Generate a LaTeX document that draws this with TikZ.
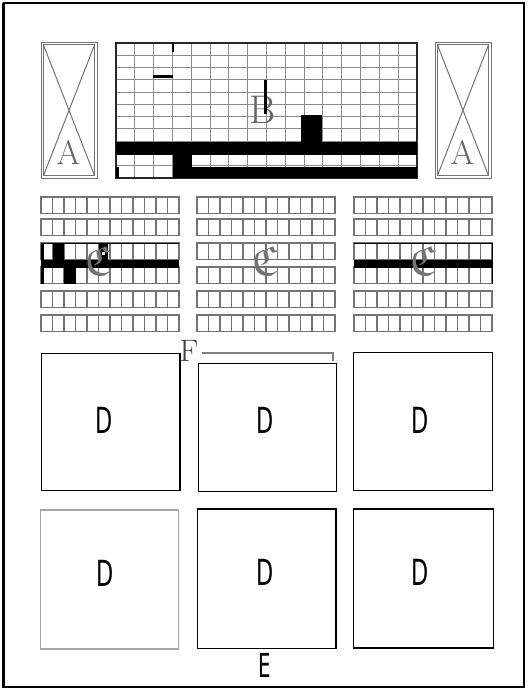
\documentclass[tikz,border=0pt]{standalone}
\usepackage{amssymb}
\usepackage{fontspec}
\newfontfamily\dfont{DejaVu Sans}
\begin{document}
\begin{tikzpicture}[x=1pt,y=-1pt,
  gridln/.style={draw=black!45, line width=1pt},
  stripln/.style={draw=black!55, line width=1.1pt},
  abox/.style={draw=black!55, line width=1pt},
  blk/.style={fill=black, draw=none},
  serifl/.style={text=black!60, inner sep=0pt},
  cletter/.style={text=black!55, inner sep=0pt, scale=2.1, font=\fontsize{20}{20}\selectfont},
  dlabel/.style={font=\dfont\fontsize{36}{36}\selectfont, xscale=0.62, inner sep=0pt},
  elabel/.style={font=\dfont\fontsize{33}{33}\selectfont, xscale=0.6, inner sep=0pt},
  dbox/.style={draw=black, line width=1.3pt}]
% background / bounding box
\fill[white] (0,0) rectangle (528,690);
\useasboundingbox (0,0) rectangle (528,690);
% outer frame
\draw[black, line width=2pt] (3.5,3.5) rectangle (523.5,687);
\draw[black, line width=3pt] (3.5,3) -- (3.5,687.5);

% ---------- A boxes ----------
\foreach \ax/\nm in {41/al,435/ar}{
  \draw[abox] (\ax,42.5) rectangle (\ax+56,178);
  \draw[abox] (\ax+2.5,45) rectangle (\ax+53.5,175.5);
  \draw[abox] (\ax+2.5,45) -- (\ax+53.5,175.5);
  \draw[abox] (\ax+53.5,45) -- (\ax+2.5,175.5);
  \node[serifl, font=\fontsize{34}{34}\selectfont] (\nm) at (\ax+27.5,152) {A};
}

% ---------- B grid ----------
\foreach \i in {0,...,16}
  \draw[gridln] ({116+\i*18.8125},43) -- ({116+\i*18.8125},178);
\foreach \j in {0,...,11}
  \draw[gridln] (116,{43+\j*12.2727}) -- (417,{43+\j*12.2727});
\draw[black!85, line width=1.1pt] (116,43) rectangle (417,178);
\node[serifl, font=\fontsize{40}{40}\selectfont] (B) at (263,110) {B};
\fill[blk] (116,141.7) rectangle (417,155);
\fill[blk] (172.7,155) rectangle (191.7,178);
\fill[blk] (191.7,166.7) rectangle (417,178);
\fill[blk] (116,167) rectangle (119,178);
\fill[blk] (153,75.5) rectangle (172.7,78.5);
\fill[blk] (172,43) rectangle (173.6,52);
\fill[blk] (264.3,80) rectangle (266.7,114);
\fill[blk] (301,115) rectangle (322,141.7);

% ---------- C strips ----------
\foreach \cx in {41,197,354}{
  \foreach \ry in {197,219,243,267,291,315}{
    \draw[stripln] (\cx,\ry) rectangle (\cx+138,\ry+16.5);
    \foreach \k in {1,...,11}
      \draw[stripln] ({\cx+\k*11.5},\ry) -- ({\cx+\k*11.5},\ry+16.5);
  }
}
% left merged strip
\fill[blk] (41,259.5) rectangle (179,267.5);
\draw[black, line width=1pt] (41,284) -- (41,243) -- (179,243);
\fill[blk] (41,243) rectangle (43.5,284);
\fill[blk] (53.3,243) rectangle (64.3,260);
\fill[blk] (64.3,260) rectangle (75.7,284);
\fill[blk] (99,244) rectangle (108,260);
\fill[white] (102,252) rectangle (104.5,255);
% right merged strip
\fill[blk] (354,259.5) rectangle (492,267.5);
\draw[black, line width=1pt] (354,243) -- (492,243) -- (492,284);
% C letters
\node[cletter] (cl) at (98,261) {$\mathfrak{C}$};
\node[cletter] (cm) at (265,261) {$\mathfrak{C}$};
\node[cletter] (cr) at (423,261) {$\mathfrak{C}$};

% ---------- F and bracket ----------
\node[serifl, text=black!75, font=\fontsize{31}{31}\selectfont] (F) at (189,351) {F};
\coordinate (fb1) at (201.5,353.3);
\coordinate (fb2) at (333.3,353.3);
\coordinate (fb3) at (333.3,361);
\draw[black!50, line width=1.8pt] (fb1) -- (fb2) -- (fb3);

% ---------- D boxes ----------
\draw[dbox] (41.7,353.3) rectangle (180,490.7);
\draw[dbox] (198.3,363.3) rectangle (336.7,491.7);
\draw[dbox] (353.3,352.7) rectangle (492.3,490.7);
\draw[draw=black!35, line width=1.3pt] (40.7,510) rectangle (178.3,649);
\draw[dbox] (197.7,509) rectangle (336,648.3);
\draw[dbox] (353.3,509) rectangle (493.3,648);
\node[dlabel] (d1) at (104,420) {D};
\node[dlabel] (d2) at (265,420) {D};
\node[dlabel] (d3) at (420,420) {D};
\node[dlabel] (d4) at (105,573) {D};
\node[dlabel] (d5) at (265,572) {D};
\node[dlabel] (d6) at (420,572) {D};
\node[elabel] (E) at (265,665) {E};
\end{tikzpicture}
\end{document}
